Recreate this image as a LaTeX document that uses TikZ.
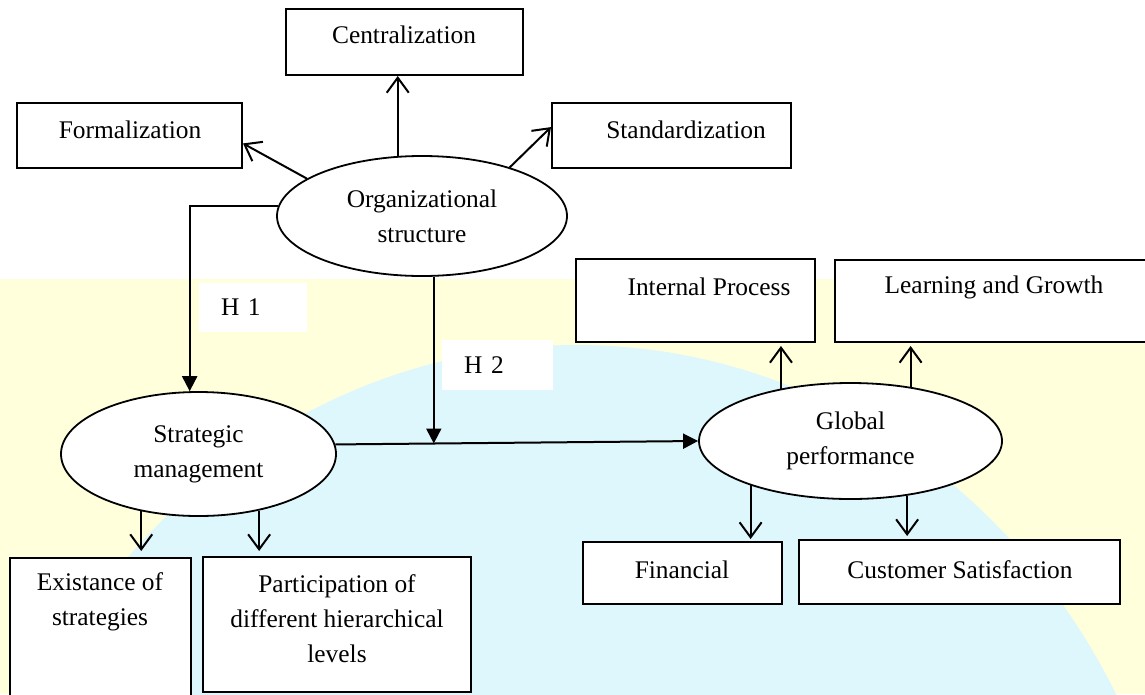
\documentclass[tikz,border=0pt]{standalone}
\usepackage{fontspec}
\setmainfont{Liberation Serif}
\usetikzlibrary{shapes.geometric,arrows.meta}

\definecolor{paleyellow}{RGB}{255,255,219}
\definecolor{palecyan}{RGB}{222,247,252}

\tikzset{
  box/.style={draw, fill=white, line width=2pt, inner sep=0pt},
  oval/.style={ellipse, draw, fill=white, line width=1.8pt, inner sep=0pt, align=center, font=\fontsize{25.4}{35}\selectfont},
  txt/.style={align=center, inner sep=0pt, font=\fontsize{25.4}{35}\selectfont},
  hyp/.style={fill=white, anchor=west, inner xsep=22pt, inner ysep=0pt, align=left, font=\fontsize{25.4}{35}\selectfont},
  barb/.style={line width=2pt, -{Straight Barb[length=15pt,width=22pt,line width=2pt]}},
  tip/.style={line width=2pt, -{Triangle[length=15pt,width=15pt]}},
}

\begin{document}
\begin{tikzpicture}[x=1pt, y=-1pt]
  % watermark behind the diagram
  \clip (0,0) rectangle (1145,694);
  \fill[white] (0,0) rectangle (1145,694);
  \fill[paleyellow] (0,279) rectangle (1145,694);
  \fill[palecyan] (577,1002) ellipse [x radius=610, y radius=657];

  % structure side
  \node[oval, minimum width=290, minimum height=120] (org) at (422,216) {Organizational\\structure};
  \node[box, minimum width=237, minimum height=66] (cent) at (404.5,42) {};
  \node[txt] (cent-t) at (404,35) {Centralization};
  \node[box, minimum width=225, minimum height=65] (form) at (129.5,135.5) {};
  \node[txt] (form-t) at (130,130) {Formalization};
  \node[box, minimum width=239, minimum height=65] (stand) at (671.5,135.5) {};
  \node[txt] (stand-t) at (686,130) {Standardization};

  % strategy side
  \node[oval, minimum width=275, minimum height=124] (strat) at (198.5,454) {Strategic\\management};
  \node[box, minimum width=181, minimum height=152] (exist) at (100.5,634) {};
  \node[txt] (exist-t) at (100,602) {Existance of\\strategies};
  \node[box, minimum width=268, minimum height=135] (partic) at (337,624.5) {};
  \node[txt] (partic-t) at (337,619) {Participation of\\different hierarchical\\levels};

  % performance side
  \node[oval, minimum width=303, minimum height=116] (glob) at (850.5,441) {Global\\performance};
  \node[box, minimum width=239, minimum height=83] (intern) at (695.5,300.5) {};
  \node[txt] (intern-t) at (709,287) {Internal Process};
  \node[box, minimum width=325, minimum height=82] (learn) at (997.5,301) {};
  \node[txt] (learn-t) at (994,287) {Learning and Growth};
  \node[box, minimum width=199, minimum height=62] (fin) at (682.5,573) {};
  \node[txt] (fin-t) at (682,570) {Financial};
  \node[box, minimum width=321, minimum height=64] (cust) at (959.5,572) {};
  \node[txt] (cust-t) at (960,570) {Customer Satisfaction};

  % hypotheses
  \node[hyp, text width=64pt, minimum height=49] (h1) at (199,307.5) {H 1};
  \node[hyp, text width=67pt, minimum height=50] (h2) at (442,365) {H 2};

  % arrows
  \draw[barb] (org.112) -- (org.112 |- cent.south);
  \draw[barb] (org.162) -- (form.-4);
  \draw[barb] (org.29) -- (stand.176);
  \draw[tip] (org.176) -| (strat.98);
  \draw[tip] (strat.4) -- coordinate[pos=0.272] (meet) (glob.west);
  \draw[tip] (org.-79) -- (org.-79 |- meet);
  \draw[barb, shorten >=6pt] (strat.-135) -- (strat.-135 |- exist.north);
  \draw[barb, shorten >=5pt] (strat.-43) -- (strat.-43 |- partic.north);
  \draw[barb, shorten >=3pt] (glob.143) -- (glob.143 |- intern.south);
  \draw[barb, shorten >=3pt] (glob.42) -- (glob.42 |- learn.south);
  \draw[barb, shorten >=2pt] (glob.-156) -- (glob.-156 |- fin.north);
  \draw[barb, shorten >=3pt] (glob.-44) -- (glob.-44 |- cust.north);
\end{tikzpicture}
\end{document}
